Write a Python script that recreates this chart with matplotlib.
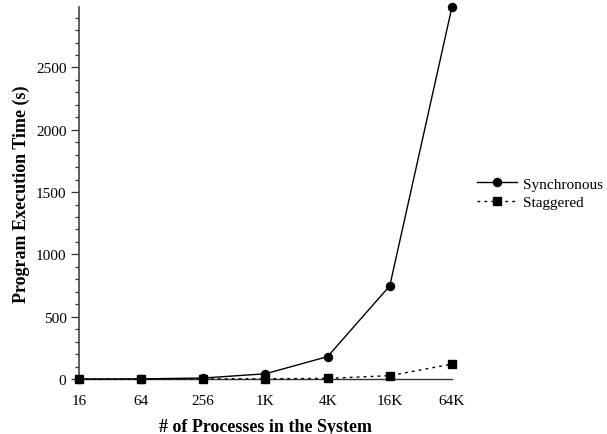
"""
Execution time vs number of processes: synchronous vs staggered.
"""

import numpy as np
import matplotlib.pyplot as plt
from matplotlib.ticker import MultipleLocator

# ── Data ──────────────────────────────────────────────────────
procs = ["16", "64", "256", "1K", "4K", "16K", "64K"]
sync_time = [0, 1, 8, 42, 180, 748, 2985]
stag_time = [0, 0, 1, 2, 5, 27, 120]

plt.rcParams['font.family'] = ['Liberation Serif', 'DejaVu Serif']

fig = plt.figure(figsize=(6.07, 4.35), dpi=100)
ax = fig.add_axes([0.1301, 0.1264, 0.6145, 0.8552])

x = np.arange(len(procs))
l1, = ax.plot(x, sync_time, color='black', linewidth=1.0, marker='o',
              markersize=5.8, label="Synchronous", clip_on=False, zorder=3)
l2, = ax.plot(x, stag_time, color='black', linewidth=1.0, linestyle=(0, (2, 3)),
              marker='s', markersize=5.8, label="Staggered", clip_on=False, zorder=3)

ax.set_xlim(0, len(procs) - 1)
ax.set_ylim(0, 2985)
ax.set_xticks(x)
ax.set_xticklabels(procs, fontsize=11)
ax.tick_params(axis='x', length=0, pad=11)
ax.yaxis.set_major_locator(MultipleLocator(500))
ax.yaxis.set_minor_locator(MultipleLocator(100))
ax.tick_params(axis='y', which='major', direction='out', length=6, width=0.9,
               labelsize=11, pad=3, color='#333333')
ax.tick_params(axis='y', which='minor', direction='out', length=3, width=0.9,
               color='#333333')

for side in ('top', 'right'):
    ax.spines[side].set_visible(False)
ax.spines['left'].set_linewidth(1.2)
ax.spines['left'].set_color('#444444')
ax.spines['bottom'].set_linewidth(1.0)
ax.spines['bottom'].set_color('#333333')

ax.set_xlabel("# of Processes in the System", fontsize=13, fontweight='bold', labelpad=8)
ax.set_ylabel("Program Execution Time (s)", fontsize=13, fontweight='bold', labelpad=4)

fig.legend(handles=[l1, l2], loc='center left', bbox_to_anchor=(0.764, 0.554),
           frameon=False, fontsize=11, handlelength=2.6, handletextpad=0.4,
           labelspacing=0.3)

plt.savefig("out.png", dpi=100)
